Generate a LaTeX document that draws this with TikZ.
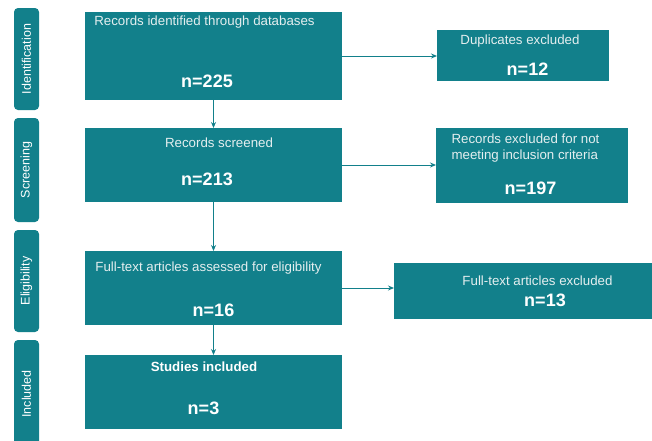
\documentclass[tikz,border=0pt]{standalone}
\usepackage{fontspec}
\setmainfont{Liberation Sans}
\usetikzlibrary{arrows.meta}
\definecolor{teal1}{HTML}{12808B}
\definecolor{txtgray}{HTML}{E4EEEF}
\tikzset{
  box/.style={fill=teal1, draw=none, inner sep=0pt, outer sep=0pt},
  side/.style={fill=teal1, draw=none, rounded corners=4pt, rotate=90, inner sep=0pt, outer sep=0pt, minimum height=25pt, text=white, font=\fontsize{12.5}{14}\selectfont},
  txt/.style={text=txtgray, inner sep=0pt, font=\fontsize{13.3}{15.5}\selectfont},
  num/.style={text=white, inner sep=0pt, font=\fontsize{18}{20}\selectfont\bfseries},
  arr/.style={draw=teal1, line width=0.9pt, -{Stealth[length=6pt,width=5pt]}}
}
\begin{document}
\begin{tikzpicture}[x=1pt,y=-1pt]
\useasboundingbox (0,0) rectangle (652,440);
\clip (0,0) rectangle (652,440);
% side labels
\node[side, minimum width=102pt] (sid) at (26.5,59) {Identification};
\node[side, minimum width=104pt] (ssc) at (26.5,170) {Screening};
\node[side, minimum width=102pt] (sel) at (26.5,281) {Eligibility};
\node[side, minimum width=108pt] (sin) at (26.5,394) {Included};
% main boxes
\node[box, minimum width=257pt, minimum height=88pt] (b1) at (213.5,56) {};
\node[box, minimum width=257pt, minimum height=74pt] (b2) at (213.5,165) {};
\node[box, minimum width=257pt, minimum height=74pt] (b3) at (213.5,288) {};
\node[box, minimum width=257pt, minimum height=74pt] (b4) at (213.5,392) {};
% right boxes
\node[box, minimum width=172pt, minimum height=51pt] (dup) at (523,55.5) {};
\node[box, minimum width=192pt, minimum height=75pt] (rec) at (532,165.5) {};
\node[box, minimum width=258pt, minimum height=56pt] (ft) at (523,291) {};
% texts
\node[txt] (t1) at (204.5,22) {Records identified through databases};
\node[num] (n1) at (207,81) {n=225};
\node[txt] (t2) at (219,143) {Records screened};
\node[num] (n2) at (207,179) {n=213};
\node[txt] (t3) at (208.5,268) {Full-text articles assessed for eligibility};
\node[num] (n3) at (213.5,310) {n=16};
\node[num, font=\fontsize{13.3}{15.5}\selectfont\bfseries] (t4) at (204,367) {Studies included};
\node[num] (n4) at (203.5,408) {n=3};
\node[txt] (t5) at (520,41) {Duplicates excluded};
\node[num] (n5) at (527.5,69) {n=12};
\node[txt, align=left] (t6) at (525.5,148) {Records excluded for not\\meeting inclusion criteria};
\node[num] (n6) at (530.5,188) {n=197};
\node[txt] (t7) at (537.5,281) {Full-text articles excluded};
\node[num] (n7) at (545,300) {n=13};
% connectors
\draw[arr] (b1.south) -- (b2.north);
\draw[arr] (b2.south) -- (b3.north);
\draw[arr] (b3.south) -- (b4.north);
\draw[arr] (b1.east) -- (b1.east -| dup.west);
\draw[arr] (b2.east) -- (b2.east -| rec.west);
\draw[arr] (b3.east) -- (b3.east -| ft.west);
\end{tikzpicture}
\end{document}
